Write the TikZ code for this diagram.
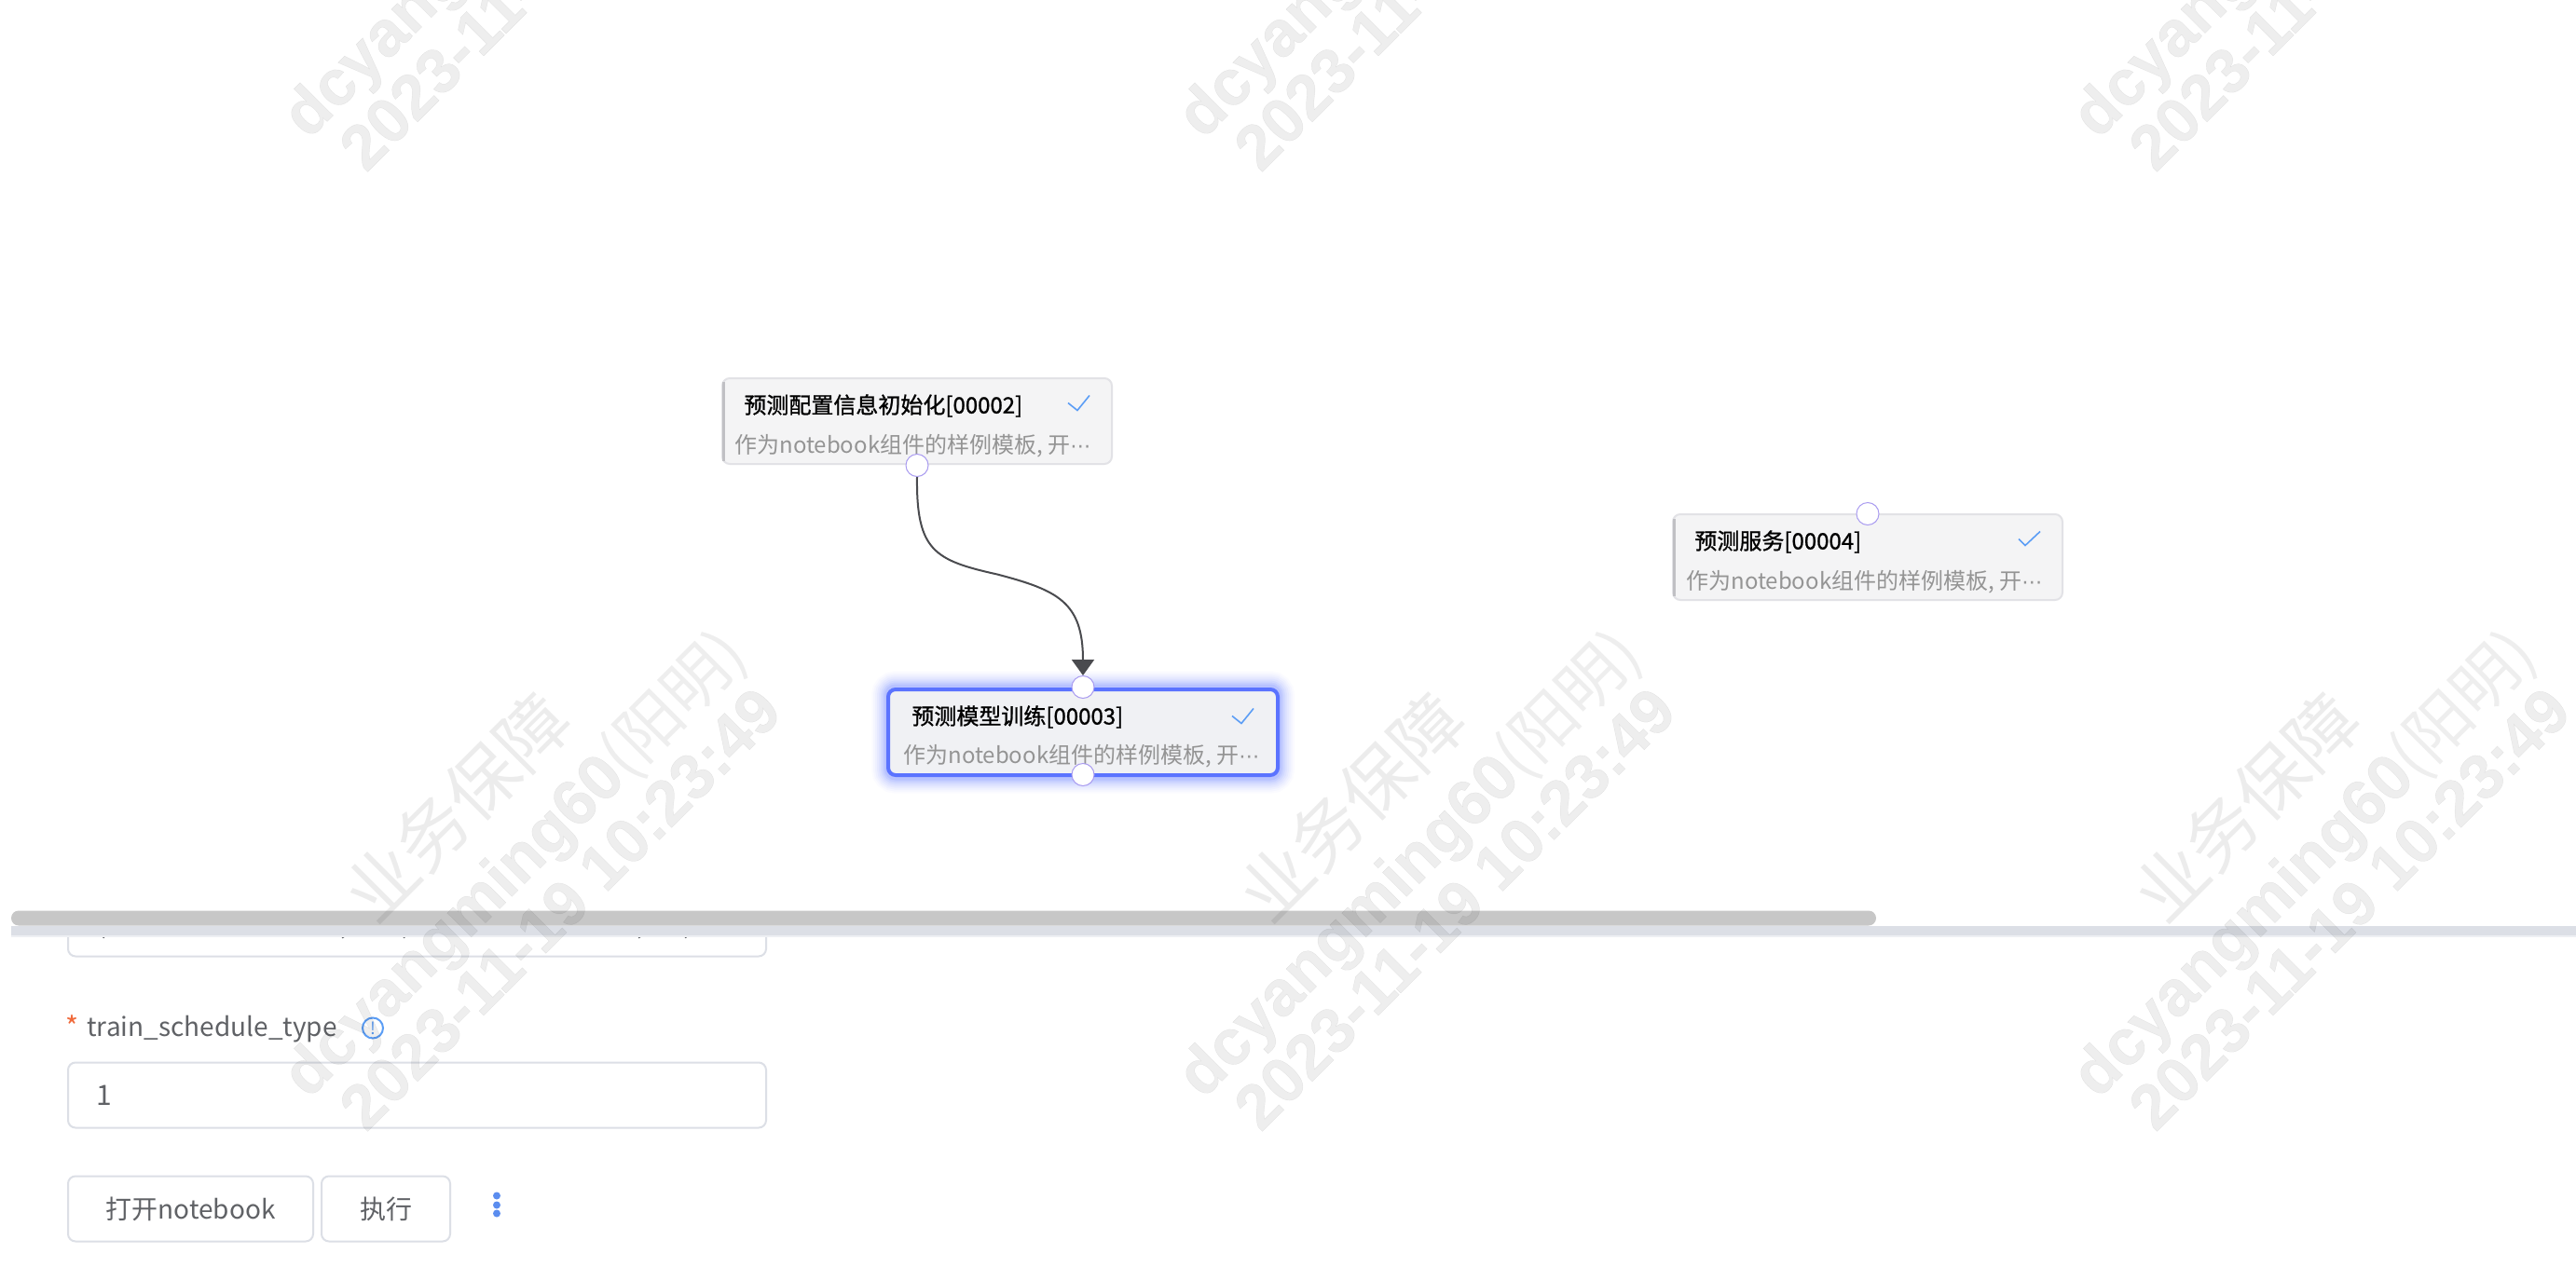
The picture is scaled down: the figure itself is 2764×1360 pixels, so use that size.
\documentclass[tikz,border=0pt]{standalone}
\usepackage{fontspec}
\usetikzlibrary{arrows.meta}
\setmainfont{Noto Sans CJK SC}
\newfontfamily\wmlatin{Liberation Sans Bold}[FakeBold=0.6]
\newfontfamily\titlefont{Noto Sans CJK SC}[FakeBold=1]
\newfontfamily\dotsfont{DejaVu Sans}
\newcommand{\subtext}{作为notebook组件的样例模板, 开{\dotsfont\fontsize{11}{14}\selectfont ⋯}}
\definecolor{edgegray}{HTML}{4A4B4F}
\definecolor{nodefill}{HTML}{F4F4F5}
\definecolor{selfill}{HTML}{F0F1F4}
\definecolor{nodeedge}{HTML}{E2E2E6}
\definecolor{selblue}{HTML}{5B73FF}
\definecolor{checkblue}{HTML}{5B9DF5}
\definecolor{formedge}{HTML}{DCDFE6}
\definecolor{formtext}{HTML}{606266}
\definecolor{portedge}{HTML}{A99BF0}
\definecolor{dotblue}{HTML}{5B8DEF}
\definecolor{starred}{HTML}{F0693A}
\tikzset{
  cardbox/.style={draw=nodeedge,fill=nodefill,line width=1pt,rounded corners=4pt,minimum width=209pt,minimum height=46pt,inner sep=0pt},
  selcard/.style={cardbox,draw=selblue,fill=selfill,line width=2pt},
  cardtitle/.style={anchor=west,inner sep=0pt,font=\titlefont\fontsize{12}{14}\selectfont,text=black},
  cardsub/.style={anchor=west,inner sep=0pt,font=\fontsize{12}{14}\selectfont,text=black!42},
  portdot/.style={circle,draw=portedge,fill=white,line width=.5pt,minimum size=12pt,inner sep=0pt},
  checkmark/.style={draw=checkblue,line width=.8pt},
  edgeline/.style={draw=edgegray,line width=1pt,-{Triangle[length=8.5pt,width=12pt]}},
  formbox/.style={draw=formedge,fill=white,line width=1pt,rounded corners=4pt,inner sep=0pt},
  formlabel/.style={inner sep=0pt,font=\fontsize{14}{16}\selectfont,text=formtext},
  wmcjk/.style={rotate=45,inner sep=0pt,text=black,text opacity=.075,font=\fontsize{38}{40}\selectfont},
  wmbold/.style={rotate=45,inner sep=0pt,text=black,text opacity=.065,font=\wmlatin\fontsize{34.6}{36}\selectfont},
  cliptail/.style={draw=formtext,line width=.9pt},
}
\begin{document}
\begin{tikzpicture}[x=.5pt,y=-.5pt]
\useasboundingbox (0,0) rectangle (2764,1360);
\fill[white] (0,0) rectangle (2764,1360);
\begin{scope}[yshift=-.75pt]
% node 2
\node[cardbox] (n2) at (984,450.5) {};
\draw[nodeedge!85!black,line width=1.5pt] (776.5,408) -- (776.5,493);
\node[cardtitle] (t2) at (798,434) {预测配置信息初始化[00002]};
\node[cardsub] (s2) at (788,477) {\subtext};
\draw[checkmark] (1146,431) -- (1156,439) -- (1169,423);
% node 4
\node[cardbox] (n4) at (2004,596.5) {};
\draw[nodeedge!85!black,line width=1.5pt] (1796.5,555) -- (1796.5,638);
\node[cardtitle] (t4) at (1818,580) {预测服务[00004]};
\node[cardsub] (s4) at (1809,623) {\subtext};
\draw[checkmark] (2166,577) -- (2173,584) -- (2189,569);
% node 3 glow
\foreach \w/\o in {36/.025,32/.03,28/.04,24/.05,20/.06,16/.08,12/.10,8/.12}{
  \draw[selblue,line width=\w*.5pt,opacity=\o,rounded corners=4pt] (953,737) rectangle (1371,832);
}
\node[selcard] (n3) at (1162,784.5) {};
\node[cardtitle] (t3) at (978,768) {预测模型训练[00003]};
\node[cardsub] (s3) at (969,810) {\subtext};
\draw[checkmark] (1322,767) -- (1332,775) -- (1345,759);
% ports
\node[portdot] (p2) at (984,498) {};
\node[portdot] (p3in) at (1162,736) {};
\node[portdot] (p3out) at (1162,830) {};
\node[portdot] (p4) at (2004,550) {};
% connector
\coordinate (bend) at (1070,615);
\draw[edgeline] (p2.south) .. controls (983,590) and (1003,600) .. (bend) .. controls (1135,632) and (1162,645) .. (p3in.north);
% form: clipped box
\begin{scope}
\clip (0,1002) rectangle (2764,1360);
\draw[formbox] (73,960) rectangle (822,1025);
\draw[cliptail] (183,1003.5) -- (197,1003.5) (316,1003.5) -- (331,1003.5) (501,1003.5) -- (516,1003.5) (634,1003.5) -- (649,1003.5);
\draw[cliptail] (108,1002) -- (112,1005) (372,1002) -- (367,1005) (436,1002) -- (433,1005) (690,1002) -- (685,1005) (739,1002) -- (735,1005);
\end{scope}
% form labels
\node[inner sep=0pt,text=starred,font=\fontsize{15}{16}\selectfont] (star) at (78,1100) {*};
\node[formlabel,anchor=west] (lab) at (93,1103) {train\_schedule\_type};
\node[circle,draw=checkblue,line width=1pt,minimum size=11pt,inner sep=0pt,text=checkblue,font=\fontsize{9}{9}\selectfont] (info) at (400,1102) {!};
\node[formbox,minimum width=374.5pt,minimum height=35pt] (inp) at (447.5,1174) {};
\node[formlabel,anchor=west,font=\fontsize{15}{16}\selectfont] (one) at (103,1174) {1};
\node[formbox,minimum width=131.5pt,minimum height=35pt,font=\fontsize{14}{16}\selectfont,text=formtext] (b1) at (204.5,1296) {打开notebook};
\node[formbox,minimum width=69pt,minimum height=35pt,font=\fontsize{14}{16}\selectfont,text=formtext] (b2) at (414,1296) {执行};
\fill[dotblue] (533,1282) circle (2pt) (533,1292) circle (2pt) (533,1301) circle (2pt);
% scrollbar
\fill[formedge] (12,992) rectangle (2764,1002);
\fill[formedge!50] (12,1002) rectangle (2764,1004);
\fill[black!22!white,rounded corners=4pt] (12,976) rectangle (2013,992);
\end{scope}
% watermark
\foreach \dx/\dy in {0/0,960/0,1920/0,0/-1030,960/-1030,1920/-1030}{
  \begin{scope}[shift={(\dx,\dy)}]
  \node[wmcjk] at (490,866) {业务保障};
  \node[wmbold] at (553,929) {dcyangming60{\normalfont\fontspec{Noto Sans CJK SC}(阳明)}};
  \node[wmbold,font=\wmlatin\fontsize{34}{36}\selectfont] at (601,975) {2023-11-19 10:23:49};
  \end{scope}
}
\end{tikzpicture}
\end{document}
